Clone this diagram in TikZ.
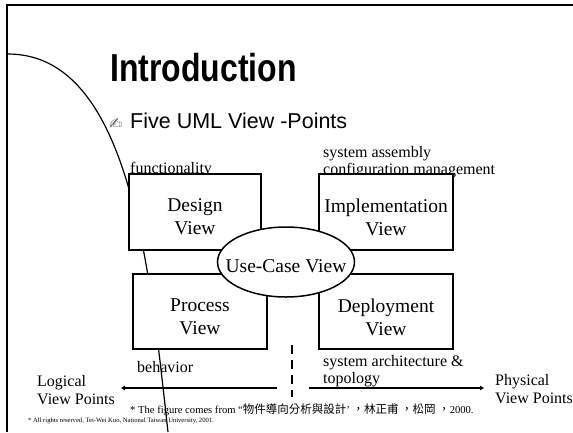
\documentclass[tikz,border=0pt]{standalone}
\usepackage{fontspec}
\setmainfont{Liberation Serif}
\setsansfont{Liberation Sans}
\newfontfamily\titlefont{Liberation Sans}[FakeStretch=0.82]
\newfontfamily\cjkfont{Noto Sans CJK TC}
\newfontfamily\symfont{DejaVu Sans}
\usetikzlibrary{arrows.meta,shapes.geometric}

\begin{document}
\begin{tikzpicture}[x=1pt,y=-1pt,
  viewbox/.style={draw,line width=1.6pt,fill=white,minimum width=132pt,
    minimum height=76pt,inner sep=0pt},
  viewtext/.style={align=center,inner sep=0pt,
    font=\fontsize{19.5}{23}\selectfont},
  note/.style={anchor=base west,inner sep=0pt,font=\fontsize{16}{17}\selectfont},
  axisline/.style={line width=1.7pt,-{Triangle[length=4pt,width=4.5pt]}},
]
% page area
\useasboundingbox (0,0) rectangle (573,432);

% slide frame (left and top edges)
\draw[line width=1.5pt] (7,432) -- (7,5) -- (573,5);

% headings
\node[anchor=base west,inner sep=0pt,
  font=\titlefont\bfseries\fontsize{39}{39}\selectfont] (title) at (110,81) {Introduction};
\node[anchor=base west,inner sep=0pt,text=black!60,
  font=\symfont\fontsize{16}{16}\selectfont] (bullet) at (109,129) {✍};
\node[anchor=base west,inner sep=0pt,
  font=\sffamily\fontsize{21.5}{21.5}\selectfont] (sub) at (130,128) {Five UML View -Points};

% annotations around the views
\node[note] (func) at (130,173) {functionality};
\node[note] (asm1) at (323,157) {system assembly};
\node[note] (asm2) at (323,174) {configuration management};
\node[note] (beh) at (137,372) {behavior};
\node[note] (arch1) at (323,366) {system architecture \&};
\node[note] (arch2) at (323,383) {topology};
\node[note] (log1) at (37,386) {Logical};
\node[note] (log2) at (37,404) {View Points};
\node[note] (phy1) at (495,385) {Physical};
\node[note] (phy2) at (495,403) {View Points};

% footnotes
\node[anchor=base west,inner sep=0pt,font=\fontsize{10.6}{12}\selectfont] (src) at (130,413)
  {* The figure comes from “{\cjkfont\fontsize{11.5}{12}\selectfont 物件導向分析與設計}’
   {\cjkfont\fontsize{11.5}{12}\selectfont ，林正甫 ，松岡 ，}2000.};
\node[anchor=base west,inner sep=0pt,font=\fontsize{6.6}{7}\selectfont] (copy) at (28,422)
  {* All rights reserved, Tei-Wei Kuo, National Taiwan University, 2001.};

% sweeping curve behind the views
\coordinate (c0) at (8,54);
\coordinate (c1) at (168,432);
\draw[line width=1.2pt] (c0) .. controls (130,54) and (150,270) .. (c1);

% the four views
\node[viewbox] (design) at (195,212) {};
\node[viewbox,minimum width=134pt,minimum height=75pt] (process) at (200,311.5) {};
\node[viewbox,minimum width=134pt] (impl) at (386,212) {};
\node[viewbox,minimum width=134pt,minimum height=75pt] (deploy) at (386,311.5) {};

% central use-case view
\node[ellipse,draw,line width=1.5pt,fill=white,minimum width=137pt,
  minimum height=70pt,inner sep=0pt] (usecase) at (286,262) {};

\node[viewtext] (designT) at ([yshift=-5pt]design.center) {Design\\View};
\node[viewtext] (processT) at ([yshift=-5.5pt]process.center) {Process\\View};
\node[viewtext] (implT) at ([yshift=-5pt]impl.center) {Implementation\\View};
\node[viewtext] (deployT) at ([yshift=-5.5pt]deploy.center) {Deployment\\View};
\node[viewtext] (usecaseT) at ([yshift=-4.5pt]usecase.center) {Use-Case View};

% logical / physical axis
\coordinate (ls) at (277,388);
\coordinate (le) at (121,388);
\coordinate (rs) at (309,388);
\coordinate (re) at (484,388);
\coordinate (dt) at (292,345);
\coordinate (db) at (292,397);
\draw[axisline] (ls) -- (le);
\draw[axisline] (rs) -- (re);
\draw[line width=2pt,dash pattern=on 9pt off 6pt] (dt) -- (db);
\end{tikzpicture}
\end{document}
